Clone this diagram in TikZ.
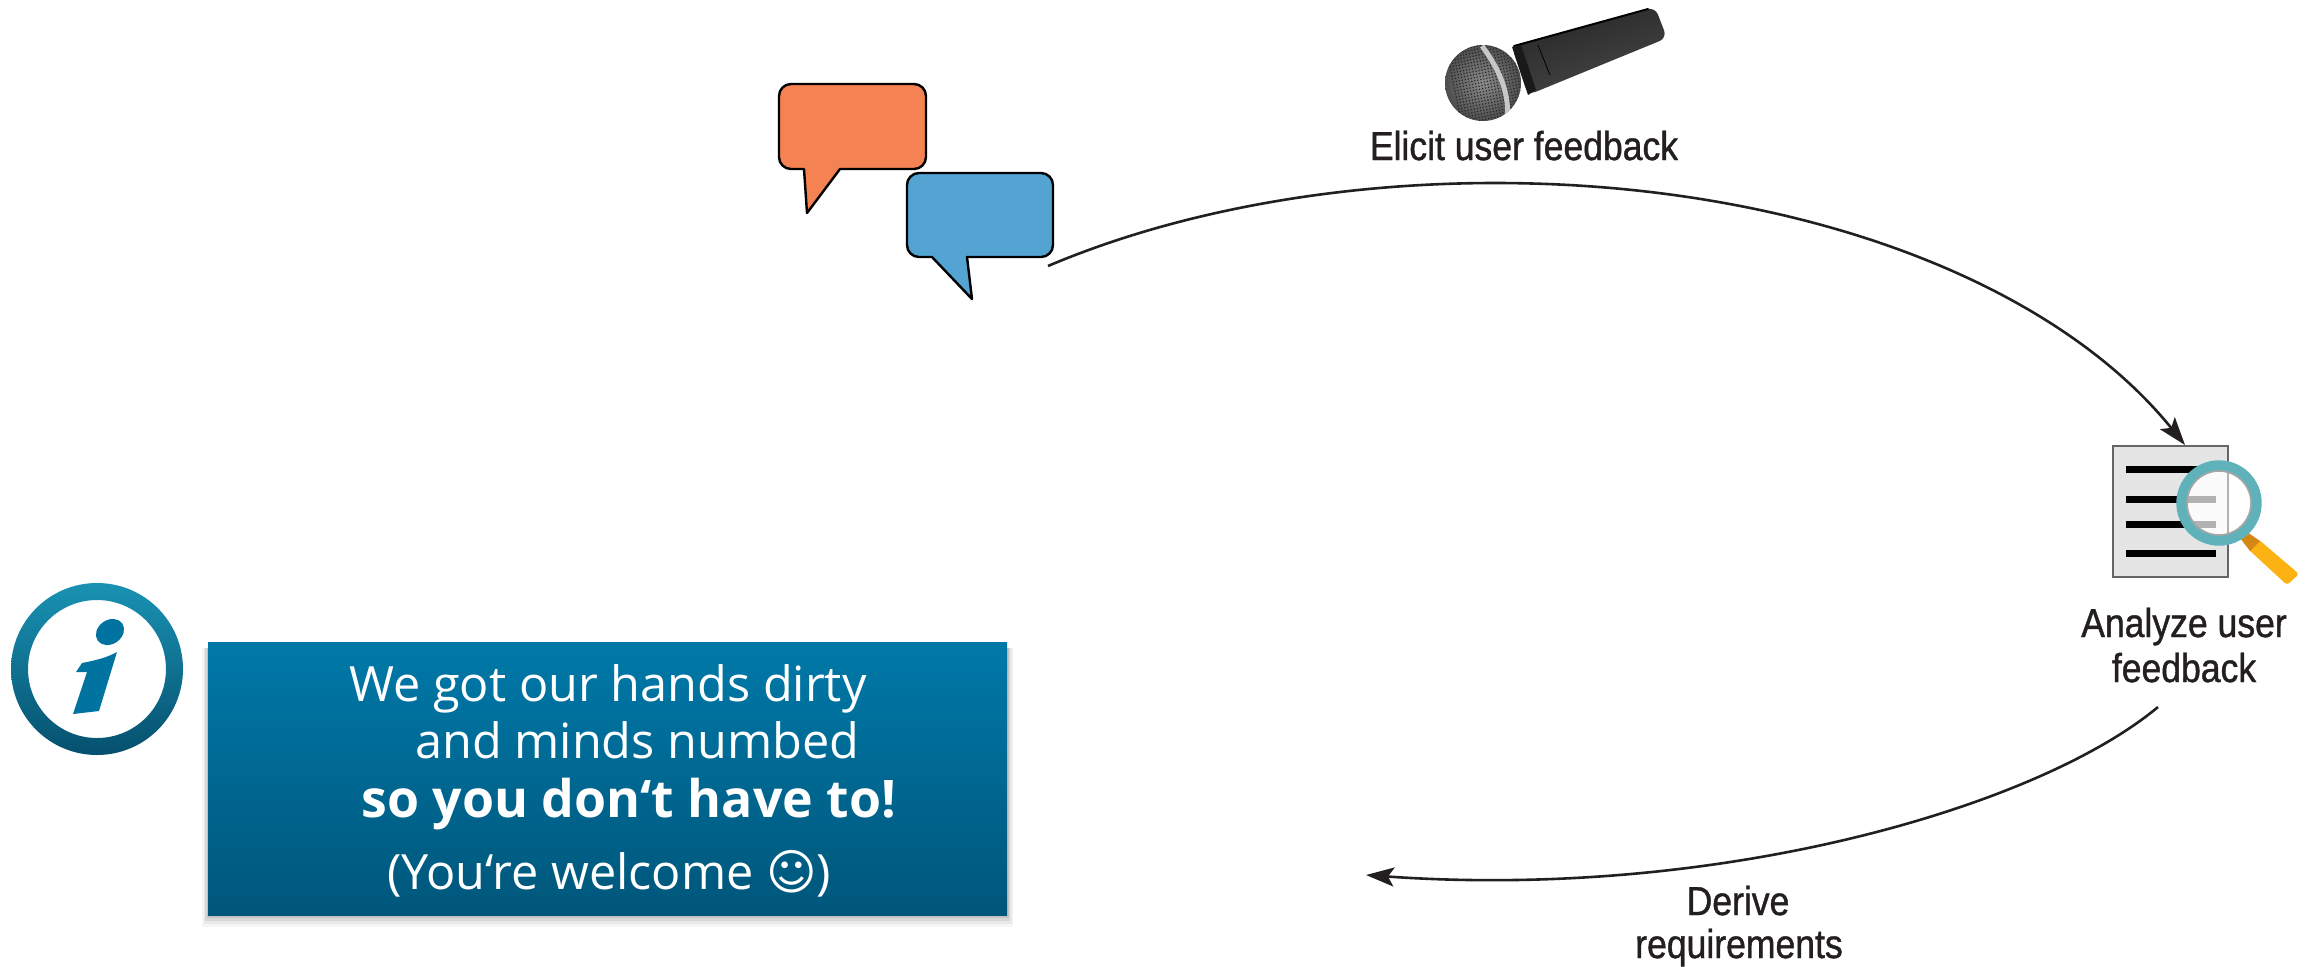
\documentclass[tikz,border=0pt]{standalone}
\usepackage{fontspec}
\usetikzlibrary{arrows.meta,calc}
\setmainfont{Open Sans}
\newfontfamily\labfont[FakeStretch=0.88,FakeBold=1.0]{Liberation Sans}
\newfontfamily\symfont{DejaVu Sans}
\definecolor{boxtop}{HTML}{0079A9}
\definecolor{boxbot}{HTML}{00567A}
\definecolor{icontop}{HTML}{1A92B3}
\definecolor{iconbot}{HTML}{05506E}
\definecolor{ink}{HTML}{231F20}
\definecolor{bubA}{HTML}{F58252}
\definecolor{bubB}{HTML}{53A3D3}
\definecolor{handle}{HTML}{FDB214}
\definecolor{collar}{HTML}{D48714}
\definecolor{lens}{HTML}{5FB2B9}
\tikzset{
  bubble/.style={draw=black,line width=1.2pt,line join=round},
  msg/.style={anchor=base west,inner sep=0pt,text=white,font=\fontsize{24.3}{28}\selectfont},
  msgbold/.style={anchor=base west,inner sep=0pt,text=white,font=\fontsize{25.9}{28}\selectfont\bfseries},
  steplabel/.style={inner sep=0pt,text=ink,align=center,font=\labfont\fontsize{20.2}{22.5}\selectfont},
  flow/.style={draw=ink,line width=1.3pt,-{Stealth[length=14pt,width=9.5pt,inset=3pt]}},
  txtline/.style={line width=3.5pt}
}
\begin{document}
\begin{tikzpicture}[x=0.5pt,y=-0.5pt]
\useasboundingbox[fill=white] (0,0) rectangle (2320,966);
% info box
\foreach \i/\o in {12/0.04,9/0.05,6/0.07,3/0.09}
  \fill[black,opacity=\o] (208-\i*0.5,648) rectangle (1007+\i*0.5,915+\i);
\shade[top color=boxtop,bottom color=boxbot] (208,642) rectangle (1007,915);
\node[msg] (l1) at (349,701) {We got our hands dirty};
\node[msg] (l2) at (415,758) {and minds numbed};
\node[msgbold] (l3) at (361,817) {so you don‘t have to!};
\node[msg] (l4) at (387,889) {(You‘re welcome {\symfont\char"263A})};
% info icon
\shade[top color=icontop,bottom color=iconbot,even odd rule] (97,669) circle (86) (97,669) circle (69);
\fill[boxtop!95!black] (76,672) -- (82,663) .. controls (98,660) and (108,657) .. (117,652) -- (99,711) -- (73,714) -- (87,672) -- cycle;
\fill[boxtop!95!black,rotate around={35:(110,632)}] (110,632) ellipse (15 and 12);
% speech bubbles
\draw[bubble,fill=bubA]
 (791,84) -- (914,84) arc (-90:0:12) -- (926,157) arc (0:90:12) -- (840,169) -- (807,213) -- (804,169) -- (791,169) arc (90:180:12) -- (779,96) arc (180:270:12) -- cycle;
\draw[bubble,fill=bubB]
 (919,173) -- (1041,173) arc (-90:0:12) -- (1053,245) arc (0:90:12) -- (967,257) -- (972,299) -- (932,257) -- (919,257) arc (90:180:12) -- (907,185) arc (180:270:12) -- cycle;
% microphone
\shade[top color=black!85,middle color=black!50,bottom color=black!72,shading angle=18,rounded corners=4pt]
 (1512,47) -- (1655,7) -- (1667,38) -- (1528,95) -- cycle;
\draw[black,line width=1pt,line cap=round] (1514,46) -- (1648,9);
\fill[black!90] (1512,47) -- (1521,45) -- (1536,90) -- (1528,95) -- cycle;
\draw[black,line width=0.4pt] (1538,45) -- (1550,75);
\begin{scope}
\clip (1483,83) circle (38);
\shade[inner color=black!45,outer color=black!70] (1483,83) circle (38);
\foreach \a in {0,...,26} \foreach \b in {0,...,26}
  \fill[black!85] (1446+\a*3+\b*0.6,46+\b*3-\a*0.6) circle (0.8);
\draw[black!22,line width=2.5pt] (1482,46) .. controls (1500,70) and (1510,95) .. (1507,120);
\end{scope}
% document and lens
\draw[draw=gray!80!black,fill=gray!20,line width=1pt] (2113,446) rectangle (2228,577);
\coordinate (docin) at (2185,445);
\draw[black,txtline] (2126,469) -- (2200,469);
\draw[black,txtline] (2126,499) -- (2186,499);
\draw[black,txtline] (2126,524) -- (2190,524);
\draw[black,txtline] (2126,553) -- (2216,553);
\fill[white,opacity=0.85] (2219,503) circle (32);
\draw[gray!60,line width=0.8pt] (2228,470) -- (2228,535);
\draw[gray!60,line width=3.5pt] (2188,499) -- (2216,499);
\draw[gray!60,line width=3.5pt] (2190,524) -- (2216,524);
\fill[handle,rounded corners=1.5pt] (2258,539) -- (2299,574) -- (2287,585) -- (2248,549) -- cycle;
\fill[collar] (2247,532) -- (2260,541) -- (2250,551) -- (2240,538) -- cycle;
\draw[draw=lens,line width=5.2pt] (2219,503) circle (37.5);
\draw[gray!70,line width=0.8pt] (2219,503) circle (32);
% labels
\node[steplabel,anchor=base] (elicit) at (1524,160) {Elicit user feedback};
\node[steplabel,anchor=base] (an1) at (2184,637) {Analyze user};
\node[steplabel,anchor=base] (an2) at (2184,682) {feedback};
\node[steplabel,anchor=base] (dr1) at (1738,915) {Derive};
\node[steplabel,anchor=base] (dr2) at (1739,958) {requirements};
% connectors
\coordinate (astart) at (1048,266);
\coordinate (apeak) at (1495,183);
\coordinate (bstart) at (2158,707);
\coordinate (bend) at (1366,875);
\path[flow] (astart) .. controls (1180,210) and (1340,183) .. (apeak) .. controls (1790,183) and (2050,278) .. (docin);
\path[flow] (bstart) .. controls (2038,807) and (1720,900) .. (bend);
\end{tikzpicture}
\end{document}
